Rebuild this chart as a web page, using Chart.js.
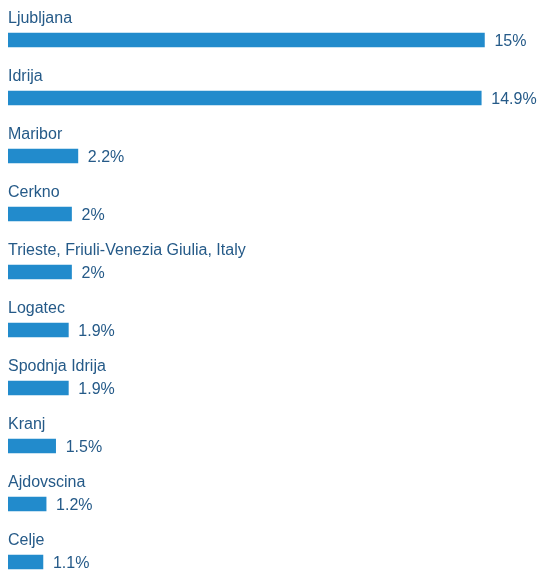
<!DOCTYPE html>
<html>
<head>
<meta charset="utf-8">
<script src="https://cdn.jsdelivr.net/npm/chart.js@4"></script>
<style>
  html, body { margin: 0; padding: 0; background: #fff; overflow: hidden; }
  #wrap { position: relative; width: 540px; height: 591px; }
</style>
</head>
<body>
<div id="wrap"><canvas id="chart"></canvas></div>
<script>
const cities = ["Ljubljana", "Idrija", "Maribor", "Cerkno", "Trieste, Friuli-Venezia Giulia, Italy",
  "Logatec", "Spodnja Idrija", "Kranj", "Ajdovscina", "Celje"];
const shares = [15, 14.9, 2.2, 2, 2, 1.9, 1.9, 1.5, 1.2, 1.1];

const barColor = "#228bcc";
const textColor = "#255a88";

// draws the city name above each bar and the percent after it
const labelPlugin = {
  id: "rowLabels",
  afterDatasetsDraw(chart) {
    let ctx = chart.ctx;
    let meta = chart.getDatasetMeta(0);
    ctx.save();
    ctx.font = "16px 'Liberation Sans', Arial, sans-serif";
    ctx.fillStyle = textColor;
    ctx.textBaseline = "alphabetic";
    ctx.textAlign = "left";
    meta.data.forEach((bar, i) => {
      ctx.fillText(cities[i], chart.chartArea.left, bar.y - 17);
      ctx.fillText(shares[i] + "%", bar.x + 10, bar.y + 6);
    });
    ctx.restore();
  }
};

new Chart("chart", {
  type: "bar",
  data: {
    labels: cities,
    datasets: [{
      data: shares,
      backgroundColor: barColor,
      barThickness: 14,
    }]
  },
  options: {
    indexAxis: "y",
    responsive: true,
    maintainAspectRatio: false,
    animation: false,
    layout: { padding: { left: 8, top: 11, right: 0, bottom: 0 } },
    plugins: { legend: { display: false }, tooltip: { enabled: false } },
    scales: {
      x: { display: false, min: 0, max: 16.75 },
      y: { display: false }
    }
  },
  plugins: [labelPlugin]
});
</script>
</body>
</html>
